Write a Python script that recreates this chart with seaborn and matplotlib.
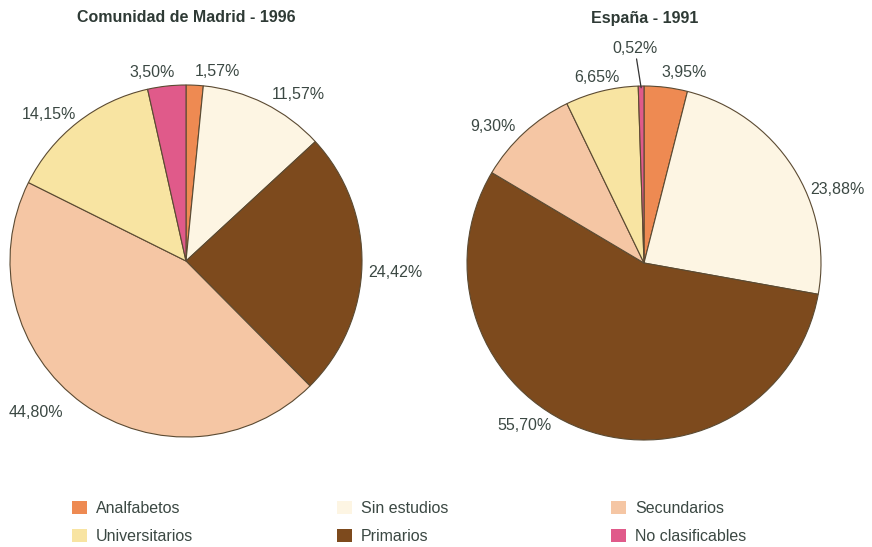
import numpy as np
import matplotlib
matplotlib.use("Agg")
import matplotlib.pyplot as plt
import seaborn as sns
from matplotlib.patches import Patch

# 1. Data (percentages, clockwise from 12 o'clock)
categories = ["Analfabetos", "Sin estudios", "Primarios", "Secundarios",
              "Universitarios", "No clasificables"]
madrid_1996 = [1.57, 11.57, 24.42, 44.80, 14.15, 3.50]
espana_1991 = [3.95, 23.88, 55.70, 9.30, 6.65, 0.52]
titles = ["Comunidad de Madrid - 1996", "España - 1991"]

# legend layout: three columns of two entries
legend_columns = [["Analfabetos", "Universitarios"],
                  ["Sin estudios", "Primarios"],
                  ["Secundarios", "No clasificables"]]

# 2. Style
sns.set_theme(style="white")
plt.rcParams["font.family"] = ["Liberation Sans", "DejaVu Sans"]
TEXT = "#3b4843"
EDGE = "#5b4a32"
palette = {
    "Analfabetos": "#ee8a52",
    "Sin estudios": "#fdf5e3",
    "Primarios": "#7d4a1d",
    "Secundarios": "#f5c6a4",
    "Universitarios": "#f8e4a2",
    "No clasificables": "#e05a8a",
}
colors = [palette[c] for c in categories]

# label placement tweaks: (angle offset in degrees, radius factor)
label_tweaks = [
    [(-6.5, 1.09), (-7.5, 1.14), (-2, 1.19), (-9, 1.21), (5, 1.14), (4, 1.09)],
    [(-4.7, 1.10), (-12, 1.17), (-16, 1.14), (5.4, 1.15), (0.5, 1.08), (1.5, 1.215)],
]

W, H = 872, 547
fig = plt.figure(figsize=(W / 100, H / 100), dpi=100)
fig.patch.set_facecolor("white")

# pie boxes in pixels: (center x, center y from top, radius)
boxes = [(186, 261, 176), (644, 263, 177)]
title_x = [186, 645]

for i, (values, (cx, cy, r)) in enumerate(zip([madrid_1996, espana_1991], boxes)):
    ax = fig.add_axes([(cx - r) / W, (H - cy - r) / H, 2 * r / W, 2 * r / H])
    wedges, _ = ax.pie(values, colors=colors, startangle=90, counterclock=False,
                       wedgeprops=dict(edgecolor=EDGE, linewidth=0.8))
    ax.set_xlim(-1, 1)
    ax.set_ylim(-1, 1)
    ax.set_aspect("equal")
    ax.axis("off")
    for w, v, (dang, dist) in zip(wedges, values, label_tweaks[i]):
        mid = (w.theta1 + w.theta2) / 2
        ang = np.deg2rad(mid + dang)
        label = f"{v:.2f}%".replace(".", ",")
        if v < 1:
            m = np.deg2rad(mid)
            ax.annotate(label, xy=(np.cos(m) * 0.99, np.sin(m) * 0.99),
                        xytext=(np.cos(ang) * dist, np.sin(ang) * dist),
                        ha="center", va="center", fontsize=11.5, color=TEXT,
                        annotation_clip=False,
                        arrowprops=dict(arrowstyle="-", color="#333333", lw=0.9,
                                        shrinkA=0, shrinkB=0))
        else:
            ax.text(np.cos(ang) * dist, np.sin(ang) * dist, label,
                    ha="center", va="center", fontsize=11.5, color=TEXT, clip_on=False)
    fig.text(title_x[i] / W, 1 - 18 / H, titles[i], ha="center", va="center",
             fontsize=11.5, fontweight="bold", color="#2e3a35")

# 3. Legend, one block per column
col_x = [72, 337, 611]
for names, x in zip(legend_columns, col_x):
    handles = [Patch(facecolor=palette[n], edgecolor="none") for n in names]
    leg = fig.legend(handles, names, loc="upper left",
                     bbox_to_anchor=(x / W, 1 - 501 / H), frameon=False,
                     fontsize=11.5, handlelength=0.95, handleheight=0.85,
                     handletextpad=0.55, labelspacing=0.8, borderpad=0,
                     borderaxespad=0)
    for t in leg.get_texts():
        t.set_color(TEXT)

fig.savefig("out.png", dpi=100, facecolor="white")
